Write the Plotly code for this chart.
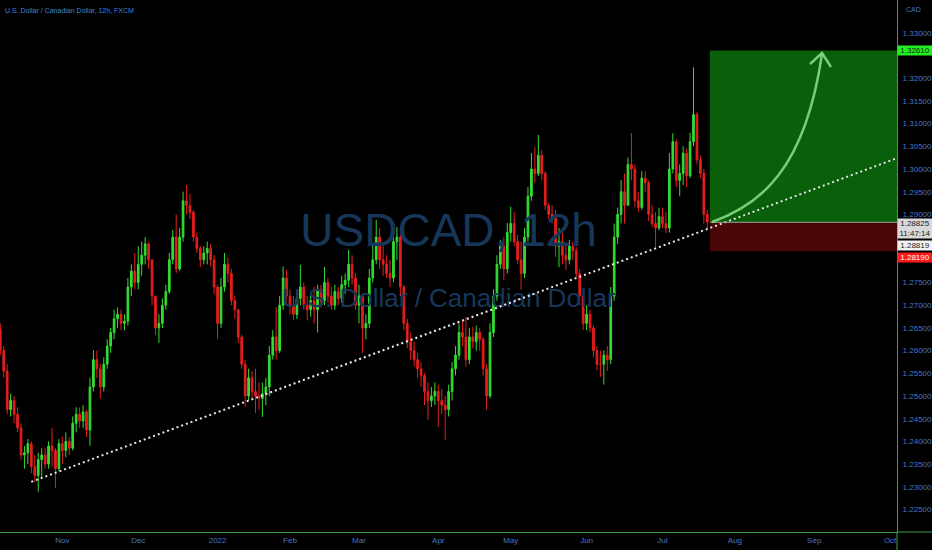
import pandas as pd
import plotly.graph_objects as go

# USDCAD (FXCM) - one bar per trading day
first_open = 1.2648
close = [
    1.2600, 1.2555, 1.2470, 1.2490, 1.2460, 1.2430, 1.2370, 1.2375, 1.2395, 1.2345, 1.2325, 1.2360, 1.2370, 1.2350, 1.2390, 1.2380, 1.2340, 1.2395,  # Oct
    1.2380, 1.2400, 1.2385, 1.2440, 1.2460, 1.2445, 1.2465, 1.2425, 1.2520, 1.2580, 1.2560, 1.2520, 1.2570, 1.2610, 1.2640, 1.2670, 1.2680, 1.2660, 1.2665, 1.2740, 1.2775, 1.2750,  # Nov
    1.2790, 1.2810, 1.2835, 1.2800, 1.2720, 1.2650, 1.2660, 1.2700, 1.2730, 1.2800, 1.2850, 1.2780, 1.2850, 1.2930, 1.2920, 1.2905, 1.2850, 1.2825, 1.2800, 1.2815, 1.2825, 1.2800, 1.2740,  # Dec
    1.2660, 1.2740, 1.2790, 1.2770, 1.2710, 1.2690, 1.2630, 1.2570, 1.2500, 1.2540, 1.2510, 1.2500, 1.2495, 1.2505, 1.2520, 1.2590, 1.2630, 1.2600, 1.2700, 1.2760, 1.2720,  # Jan
    1.2700, 1.2680, 1.2715, 1.2740, 1.2700, 1.2690, 1.2710, 1.2690, 1.2735, 1.2710, 1.2750, 1.2720, 1.2700, 1.2730, 1.2715, 1.2745, 1.2755, 1.2790, 1.2760, 1.2700,  # Feb
    1.2720, 1.2650, 1.2660, 1.2760, 1.2800, 1.2850, 1.2800, 1.2790, 1.2770, 1.2760, 1.2840, 1.2850, 1.2740, 1.2660, 1.2620, 1.2600, 1.2580, 1.2560, 1.2545, 1.2510, 1.2490, 1.2500, 1.2510,  # Mar
    1.2490, 1.2480, 1.2470, 1.2510, 1.2560, 1.2590, 1.2640, 1.2630, 1.2580, 1.2630, 1.2620, 1.2640, 1.2625, 1.2560, 1.2500, 1.2640, 1.2720, 1.2790, 1.2830, 1.2780, 1.2860,  # Apr
    1.2880, 1.2840, 1.2800, 1.2770, 1.2850, 1.2940, 1.3000, 1.2990, 1.3030, 1.2990, 1.2920, 1.2900, 1.2895, 1.2830, 1.2840, 1.2810, 1.2800, 1.2830, 1.2820, 1.2770, 1.2720, 1.2660,  # May
    1.2680, 1.2650, 1.2600, 1.2570, 1.2570, 1.2590, 1.2580, 1.2720, 1.2850, 1.2900, 1.2950, 1.2920, 1.3010, 1.3000, 1.2930, 1.2915, 1.2980, 1.2970, 1.2900, 1.2880, 1.2870, 1.2895,  # Jun
    1.2880, 1.2870, 1.3000, 1.3060, 1.2975, 1.2990, 1.3035, 1.2985, 1.3060, 1.3120, 1.3020, 1.2990, 1.2900, 1.2883,  # Jul
]
high = [
    1.2660, 1.2610, 1.2570, 1.2505, 1.2500, 1.2475, 1.2440, 1.2390, 1.2405, 1.2400, 1.2370, 1.2375, 1.2385, 1.2385, 1.2400, 1.2430, 1.2385, 1.2405,
    1.2410, 1.2420, 1.2410, 1.2455, 1.2475, 1.2475, 1.2480, 1.2470, 1.2540, 1.2601, 1.2600, 1.2570, 1.2585, 1.2625, 1.2650, 1.2690, 1.2695, 1.2690, 1.2680, 1.2760, 1.2790, 1.2815,
    1.2830, 1.2840, 1.2850, 1.2840, 1.2800, 1.2720, 1.2680, 1.2715, 1.2745, 1.2815, 1.2866, 1.2900, 1.2870, 1.2950, 1.2965, 1.2945, 1.2910, 1.2860, 1.2830, 1.2830, 1.2840, 1.2835, 1.2810,
    1.2745, 1.2760, 1.2815, 1.2805, 1.2780, 1.2720, 1.2690, 1.2635, 1.2580, 1.2560, 1.2555, 1.2560, 1.2530, 1.2530, 1.2540, 1.2610, 1.2645, 1.2696, 1.2720, 1.2785, 1.2778,
    1.2735, 1.2720, 1.2730, 1.2789, 1.2750, 1.2720, 1.2725, 1.2740, 1.2745, 1.2745, 1.2784, 1.2760, 1.2740, 1.2745, 1.2740, 1.2765, 1.2770, 1.2822, 1.2810, 1.2770,
    1.2745, 1.2720, 1.2680, 1.2780, 1.2836, 1.2888, 1.2870, 1.2835, 1.2810, 1.2800, 1.2860, 1.2872, 1.2855, 1.2745, 1.2670, 1.2640, 1.2620, 1.2595, 1.2575, 1.2550, 1.2530, 1.2520, 1.2530,
    1.2525, 1.2515, 1.2500, 1.2525, 1.2575, 1.2610, 1.2660, 1.2667, 1.2674, 1.2650, 1.2652, 1.2655, 1.2650, 1.2630, 1.2570, 1.2660, 1.2735, 1.2810, 1.2844, 1.2850, 1.2881,
    1.2917, 1.2905, 1.2855, 1.2840, 1.2870, 1.2960, 1.3035, 1.3048, 1.3075, 1.3042, 1.2995, 1.2925, 1.2920, 1.2910, 1.2870, 1.2860, 1.2837, 1.2844, 1.2840, 1.2828, 1.2780, 1.2720,
    1.2700, 1.2690, 1.2655, 1.2610, 1.2600, 1.2601, 1.2610, 1.2740, 1.2880, 1.2915, 1.2976, 1.2990, 1.3025, 1.3079, 1.3010, 1.2950, 1.2995, 1.2995, 1.2975, 1.2920, 1.2905, 1.2915,
    1.2915, 1.2905, 1.3035, 1.3079, 1.3065, 1.3010, 1.3050, 1.3045, 1.3080, 1.3224, 1.3125, 1.3030, 1.3000, 1.2910,
]
low = [
    1.2590, 1.2540, 1.2460, 1.2455, 1.2440, 1.2420, 1.2360, 1.2340, 1.2350, 1.2330, 1.2310, 1.2289, 1.2320, 1.2340, 1.2340, 1.2345, 1.2297, 1.2335,
    1.2350, 1.2365, 1.2370, 1.2380, 1.2420, 1.2430, 1.2430, 1.2410, 1.2390, 1.2510, 1.2540, 1.2495, 1.2510, 1.2560, 1.2595, 1.2625, 1.2650, 1.2645, 1.2645, 1.2655, 1.2720, 1.2735,
    1.2735, 1.2765, 1.2790, 1.2780, 1.2700, 1.2635, 1.2617, 1.2650, 1.2690, 1.2725, 1.2790, 1.2771, 1.2775, 1.2840, 1.2900, 1.2890, 1.2840, 1.2815, 1.2784, 1.2790, 1.2790, 1.2785, 1.2725,
    1.2625, 1.2650, 1.2730, 1.2750, 1.2700, 1.2670, 1.2617, 1.2560, 1.2476, 1.2490, 1.2495, 1.2463, 1.2470, 1.2454, 1.2480, 1.2500, 1.2580, 1.2580, 1.2595, 1.2690, 1.2705,
    1.2680, 1.2667, 1.2670, 1.2700, 1.2690, 1.2667, 1.2675, 1.2660, 1.2640, 1.2695, 1.2700, 1.2705, 1.2690, 1.2690, 1.2700, 1.2705, 1.2725, 1.2740, 1.2745, 1.2690,
    1.2660, 1.2595, 1.2625, 1.2650, 1.2750, 1.2790, 1.2780, 1.2765, 1.2760, 1.2740, 1.2750, 1.2800, 1.2720, 1.2645, 1.2605, 1.2580, 1.2565, 1.2540, 1.2520, 1.2480, 1.2447, 1.2476, 1.2480,
    1.2432, 1.2460, 1.2403, 1.2455, 1.2490, 1.2545, 1.2580, 1.2610, 1.2565, 1.2570, 1.2605, 1.2600, 1.2600, 1.2545, 1.2469, 1.2495, 1.2630, 1.2710, 1.2780, 1.2755, 1.2770,
    1.2840, 1.2830, 1.2790, 1.2734, 1.2760, 1.2840, 1.2930, 1.2970, 1.2985, 1.2975, 1.2910, 1.2890, 1.2880, 1.2806, 1.2784, 1.2790, 1.2778, 1.2790, 1.2800, 1.2762, 1.2700, 1.2645,
    1.2645, 1.2640, 1.2585, 1.2557, 1.2542, 1.2525, 1.2555, 1.2570, 1.2710, 1.2835, 1.2880, 1.2880, 1.2920, 1.2975, 1.2915, 1.2905, 1.2910, 1.2950, 1.2885, 1.2872, 1.2828, 1.2865,
    1.2870, 1.2859, 1.2860, 1.2990, 1.2960, 1.2940, 1.2965, 1.2960, 1.2980, 1.3050, 1.3010, 1.2980, 1.2880, 1.2866,
]

dates = pd.bdate_range("2021-10-06", "2022-07-20") + pd.Timedelta(hours=12)
opens = [first_open] + close[:-1]

month_ticks = ["2021-11-01", "2021-12-01", "2022-01-03", "2022-02-01", "2022-03-01", "2022-04-01",
               "2022-05-02", "2022-06-01", "2022-07-01", "2022-08-01", "2022-09-01", "2022-10-03"]
month_labels = ["Nov", "Dec", "2022", "Feb", "Mar", "Apr", "May", "Jun", "Jul", "Aug", "Sep", "Oct"]
# 1.325 / 1.285 / 1.280 sit under the price labels in the reference
price_ticks = [1.225, 1.230, 1.235, 1.240, 1.245, 1.250, 1.255, 1.260, 1.265, 1.270, 1.275,
               1.290, 1.295, 1.300, 1.305, 1.310, 1.315, 1.320, 1.330]

trend_dates = ["2021-10-19 12:00", "2022-10-05 12:00"]
trend_prices = [1.2311, 1.3024]

entry, target, stop = 1.28825, 1.32610, 1.28190
box_start = "2022-07-21 06:00"
x_end = "2022-10-05 12:00"

GREEN = "#33dd33"
RED = "#e61e1e"
AXIS = "#3fa046"
LABEL = "#4a76c2"
FONT = "Liberation Sans, Arial, sans-serif"

# plot area in pixels (used for the hand drawn arrow)
W, H = 897, 532


def pp(x, y):
    return "%.4f,%.4f" % (x / W, 1 - y / H)


fig = go.Figure()

# watermark (drawn first so candles sit on top)
fig.add_trace(go.Scatter(
    x=["2022-04-06 12:00", "2022-04-06 12:00"], y=[1.2855, 1.2711],
    mode="text", text=["USDCAD, 12h", "U.S. Dollar / Canadian Dollar"],
    textfont=dict(size=[46, 26], color="#16375a", family=FONT),
    hoverinfo="skip", showlegend=False,
))

fig.add_trace(go.Candlestick(
    x=dates, open=opens, high=high, low=low, close=close,
    increasing=dict(line=dict(color=GREEN, width=1), fillcolor=GREEN),
    decreasing=dict(line=dict(color=RED, width=1), fillcolor=RED),
    whiskerwidth=0, showlegend=False,
))

fig.add_trace(go.Scatter(
    x=trend_dates, y=trend_prices, mode="lines",
    line=dict(color="#e8e8e8", width=2, dash="2px,3px"),
    hoverinfo="skip", showlegend=False,
))

# long position box
fig.add_shape(type="rect", xref="x", yref="y", x0=box_start, x1=x_end, y0=entry, y1=target,
              fillcolor="#0a5f0a", line_width=0, layer="below")
fig.add_shape(type="rect", xref="x", yref="y", x0=box_start, x1=x_end, y0=stop, y1=entry,
              fillcolor="#4a0505", line_width=0, layer="below")
fig.add_shape(type="line", xref="x", yref="y", x0=box_start, x1=x_end, y0=entry, y1=entry,
              line=dict(color="#a0a0a0", width=1))

# curved arrow
fig.add_shape(type="path", xref="paper", yref="paper",
              path="M %s C %s %s %s" % (pp(712, 222), pp(760, 205), pp(805, 170), pp(822, 54)),
              line=dict(color="rgba(140,225,140,0.85)", width=2.5))
fig.add_shape(type="path", xref="paper", yref="paper",
              path="M %s L %s L %s" % (pp(810, 64), pp(822, 53), pp(831, 67)),
              line=dict(color="rgba(140,225,140,0.85)", width=2.5))

# axis lines running past the corner
fig.add_shape(type="line", xref="paper", yref="paper", x0=1, x1=932 / W, y0=0, y1=0,
              line=dict(color=AXIS, width=1))
fig.add_shape(type="line", xref="paper", yref="paper", x0=1, x1=1, y0=0, y1=-18 / H,
              line=dict(color=AXIS, width=1))

# texts
fig.add_annotation(xref="paper", yref="paper", x=3 / W, y=1, xanchor="left", yanchor="top", yshift=-5,
                   text="U.S. Dollar / Canadian Dollar, 12h, FXCM", showarrow=False,
                   font=dict(size=7, color="#3d86d8", family=FONT))
fig.add_annotation(xref="paper", yref="paper", x=1 + 7 / W, y=1, xanchor="left", yanchor="top", yshift=-4,
                   text="CAD", showarrow=False, font=dict(size=7, color=LABEL, family=FONT))

lab = dict(xref="paper", yref="y", x=1, xanchor="left", showarrow=False, borderpad=0, width=34)
fig.add_annotation(y=target, text="1.32610", bgcolor="#22ee22",
                   font=dict(size=8, color="#0a2a0a", family=FONT), **lab)
fig.add_annotation(y=entry, yanchor="top", yshift=4, text="1.28825<br>11:47:14", bgcolor="#d8d8d8",
                   font=dict(size=8, color="#222222", family=FONT), **lab)
fig.add_annotation(y=entry, yanchor="top", yshift=-18, text="1.28819", bgcolor="#f2f2f2",
                   font=dict(size=8, color="#222222", family=FONT), **lab)
fig.add_annotation(y=stop, yanchor="top", yshift=-1, text="1.28190", bgcolor="#ff1a1a",
                   font=dict(size=8, color="#ffffff", family=FONT), **lab)

fig.update_layout(
    width=932, height=550,
    margin=dict(l=0, r=35, t=0, b=18),
    paper_bgcolor="#000000", plot_bgcolor="#000000",
    font=dict(family=FONT, color=LABEL, size=8),
    showlegend=False,
    xaxis=dict(
        type="date", range=["2021-10-06 10:00", x_end],
        rangebreaks=[dict(bounds=["sat", "mon"])],
        rangeslider=dict(visible=False),
        tickvals=[d + " 12:00" for d in month_ticks], ticktext=month_labels,
        showgrid=False, zeroline=False, showline=True, linecolor=AXIS, linewidth=1,
        ticks="", tickfont=dict(size=8, color=LABEL),
    ),
    yaxis=dict(
        side="right", range=[1.22005, 1.33722],
        tickvals=price_ticks, tickformat=".5f",
        showgrid=False, zeroline=False, showline=True, linecolor=AXIS, linewidth=1,
        ticks="", ticklabelstandoff=3, tickfont=dict(size=8, color=LABEL),
    ),
)

fig.write_html("out.html", config={"displayModeBar": False},
               post_script="document.body.style.margin='0';document.body.style.background='#000';"
                           "document.body.style.overflow='hidden';")
